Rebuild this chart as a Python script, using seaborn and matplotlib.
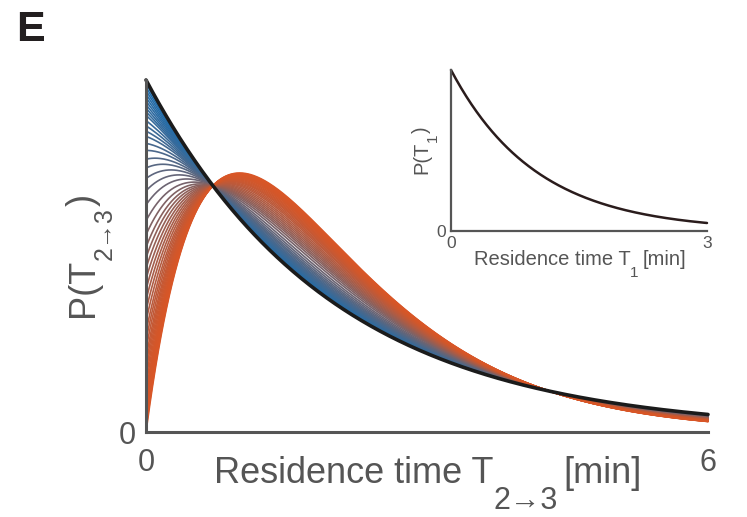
import numpy as np
import pandas as pd
import matplotlib
matplotlib.use("Agg")
import matplotlib.pyplot as plt
import seaborn as sns

# Residence time T(2->3): family of curves between a gamma-shaped (orange)
# and an exponential (blue) density, both with a 2 min mean.
t_max = 6.0
exp_rate = 0.5          # exponential limit, black curve
gamma_rate = 1.0        # two-step limit, peak at 1 min
# weight of the exponential part = start height at t=0 (relative to black curve),
# read off the fan of curves at the y axis
start_heights = [1.00, 0.99, 0.98, 0.97, 0.96, 0.95, 0.94, 0.93, 0.92, 0.91,
                 0.90, 0.885, 0.87, 0.855, 0.84, 0.82, 0.80, 0.775, 0.75, 0.72,
                 0.685, 0.645, 0.60, 0.56, 0.525, 0.495, 0.465, 0.435, 0.405,
                 0.375, 0.345, 0.315, 0.285, 0.26, 0.235, 0.21, 0.19, 0.17,
                 0.15, 0.13, 0.11, 0.095, 0.08, 0.065, 0.05, 0.04, 0.03, 0.02,
                 0.01, 0.0]

# inset: residence time T1
t1_max = 3.0
t1_rate = 1.0

ORANGE = "#D85627"
MID = "#6f6470"
BLUE = "#1E6DAD"
GREY = "#555555"

W_PX, H_PX = 747, 517


def place_label(fig, x, y, parts, rotation=0):
    """Write label pieces one after the other; each piece is
    (text, fontsize, drop_px, gap_px). x, y in pixels from top-left."""
    r = fig.canvas.get_renderer()
    widths = []
    for s, size, _, _ in parts:
        tmp = fig.text(0, 0, s, fontsize=size)
        widths.append(tmp.get_window_extent(r).width)
        tmp.remove()
    total = sum(widths) + sum(p[3] for p in parts)
    pos = -total / 2
    for (s, size, drop, gap), w in zip(parts, widths):
        pos += gap
        if rotation:
            fx, fy = x + drop, (H_PX - y) + pos
        else:
            fx, fy = x + pos, (H_PX - y) - drop
        fig.text(fx / W_PX, fy / H_PX, s, fontsize=size, color=GREY,
                 rotation=rotation, rotation_mode="anchor",
                 ha="left", va="baseline")
        pos += w


sns.set_style("white")
plt.rcParams["font.family"] = ["Liberation Sans", "DejaVu Sans"]

t = np.linspace(0, t_max, 601)
exp_curve = exp_rate * np.exp(-exp_rate * t)
gamma_curve = gamma_rate ** 2 * t * np.exp(-gamma_rate * t)

frames = []
for i, w in enumerate(start_heights):
    frames.append(pd.DataFrame({"t": t,
                                "p": w * exp_curve + (1 - w) * gamma_curve,
                                "curve": f"c{i:02d}"}))
df = pd.concat(frames, ignore_index=True)
cmap = sns.blend_palette([ORANGE, MID, BLUE], as_cmap=True)
palette = {f"c{i:02d}": cmap(w ** 1.5) for i, w in enumerate(start_heights)}

fig = plt.figure(figsize=(W_PX / 100, H_PX / 100), dpi=100)
ax = fig.add_axes([146 / W_PX, 85 / H_PX, 562 / W_PX, 352 / H_PX])

sns.lineplot(data=df, x="t", y="p", hue="curve", hue_order=list(palette),
             palette=palette, legend=False, estimator=None, lw=1.2,
             clip_on=False, ax=ax)
sns.lineplot(x=t, y=exp_curve, color="#1b1b1b", lw=2.6, clip_on=False, ax=ax)

ax.set_xlim(0, t_max)
ax.set_ylim(0, exp_rate)
ax.set_xticks([0, 6])
ax.set_yticks([0])
ax.set_xlabel("")
ax.set_ylabel("")
for side in ["top", "right"]:
    ax.spines[side].set_visible(False)
for side in ["left", "bottom"]:
    ax.spines[side].set_color(GREY)
    ax.spines[side].set_linewidth(2.2)
ax.tick_params(axis="both", direction="out", length=3.5, width=2, color=GREY,
               labelcolor=GREY, labelsize=22)
ax.tick_params(axis="x", pad=8)
ax.tick_params(axis="y", pad=4)

# inset
t1 = np.linspace(0, t1_max, 301)
p1 = t1_rate * np.exp(-t1_rate * t1)
ax_in = fig.add_axes([451 / W_PX, (H_PX - 231) / H_PX, 256 / W_PX, 161 / H_PX])
ax_in.set_facecolor("none")
sns.lineplot(x=t1, y=p1, color="#2a1c1c", lw=1.8, clip_on=False, ax=ax_in)
ax_in.set_xlim(0, t1_max)
ax_in.set_ylim(0, t1_rate)
ax_in.set_xticks([0, 3])
ax_in.set_yticks([0])
for side in ["top", "right"]:
    ax_in.spines[side].set_visible(False)
for side in ["left", "bottom"]:
    ax_in.spines[side].set_color(GREY)
    ax_in.spines[side].set_linewidth(1.6)
ax_in.tick_params(axis="both", direction="out", length=2.5, width=1.5,
                  color=GREY, labelcolor=GREY, labelsize=12.5, pad=1)

# labels
place_label(fig, 428, 483, [("Residence time T", 26, 0, 0),
                            ("2\u21923", 22, 26, 0),
                            ("[min]", 26, 0, 5)])
place_label(fig, 93, 255, [("P(T", 26, 0, 0),
                           ("2\u21923", 18, 19, -2),
                           (")", 26, 0, 2)], rotation=90)
place_label(fig, 580, 265, [("Residence time T", 14.5, 0, 0),
                            ("1", 11, 12, 0),
                            ("[min]", 14.5, 0, 4)])
place_label(fig, 427, 150, [("P(T", 14.5, 0, 0),
                            ("1", 11, 10, -1),
                            (")", 14.5, 0, 1)], rotation=90)

fig.text(16 / W_PX, 1 - 41 / H_PX, "E", fontsize=31, fontweight="bold",
         color="#231f20", va="baseline")

fig.savefig("out.png", dpi=100)
